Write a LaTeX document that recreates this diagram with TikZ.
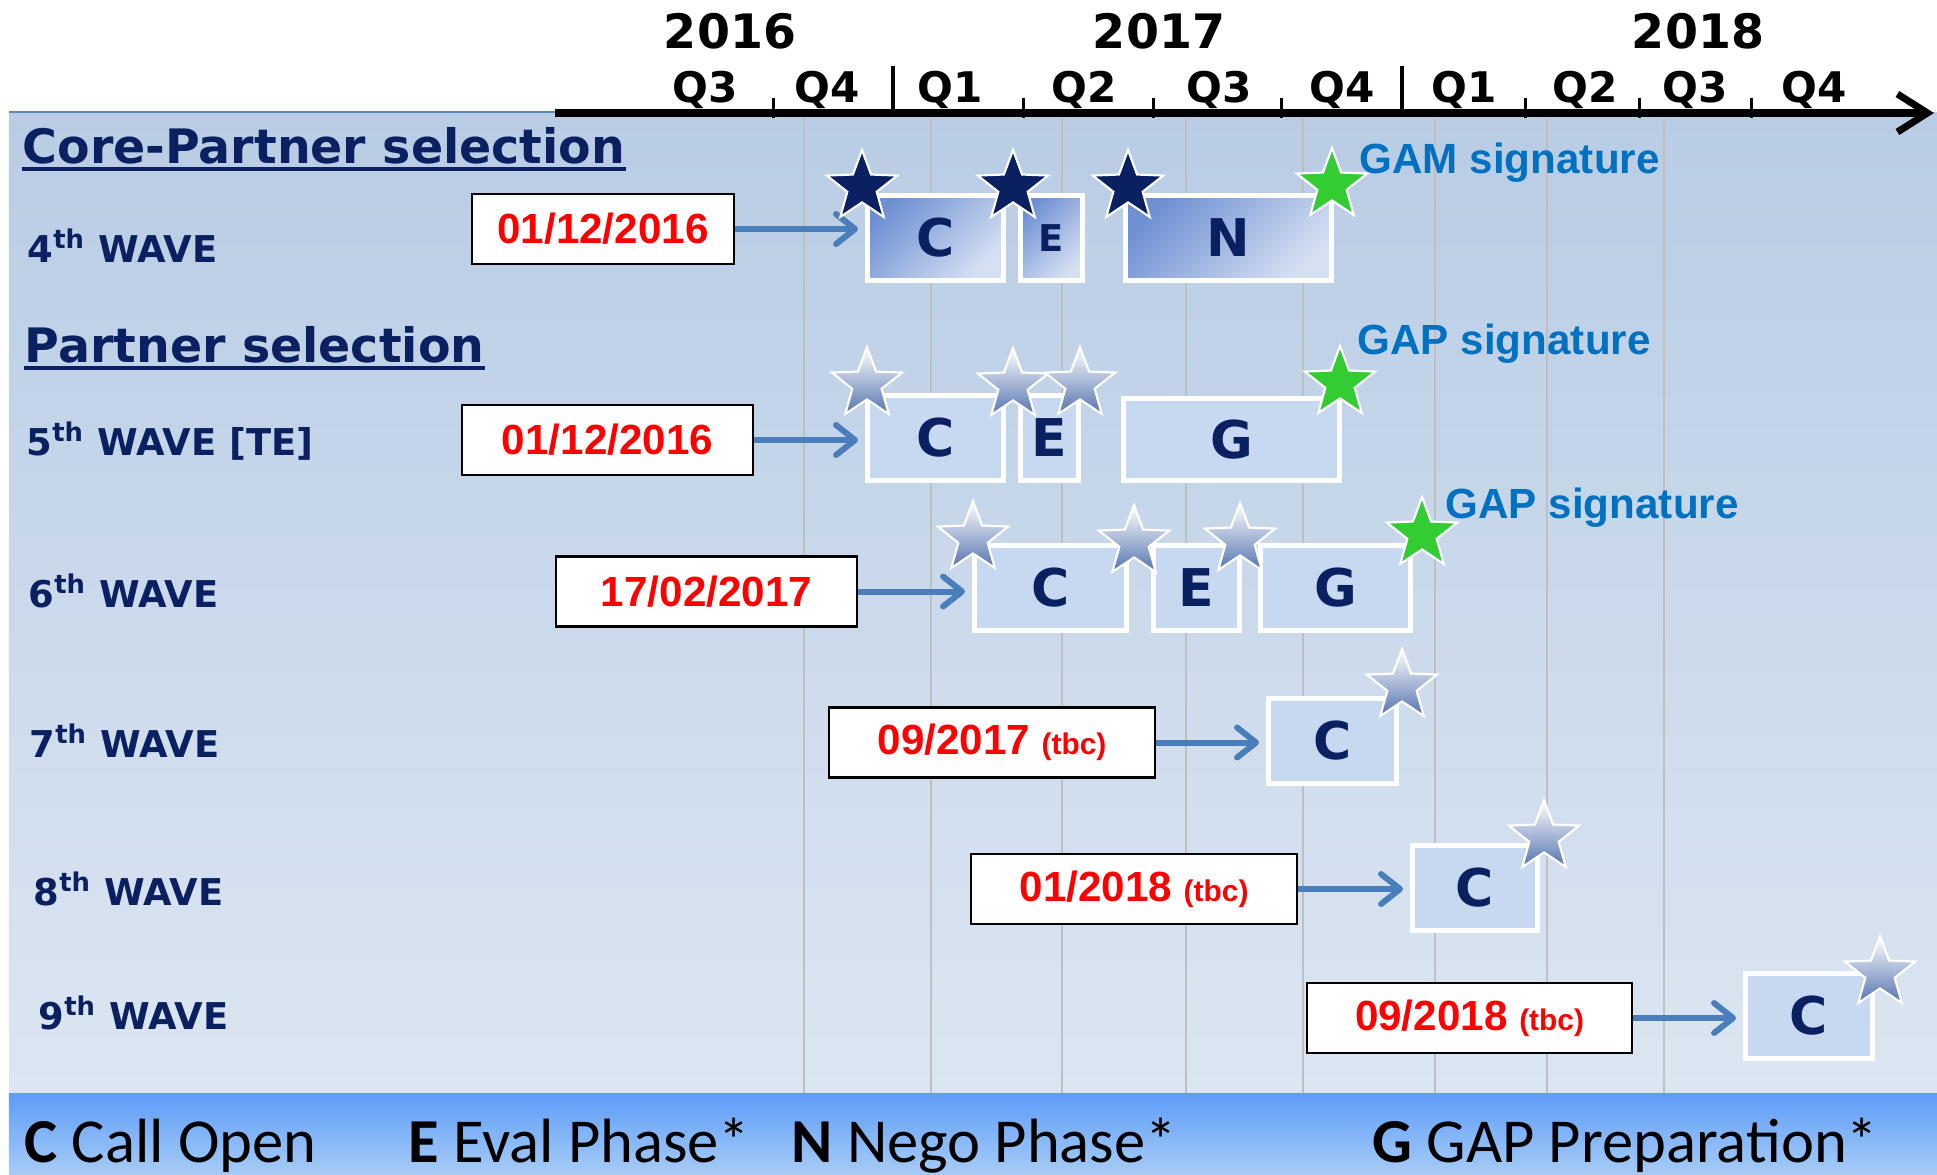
\documentclass[tikz,border=0pt]{standalone}
\usepackage{fontspec}
\setmainfont{DejaVu Sans}
\newfontfamily\arialfont{Liberation Sans}
\newfontfamily\calfont{Carlito}
\usetikzlibrary{shapes.geometric,arrows.meta}

\definecolor{wavenavy}{HTML}{0A2060}
\definecolor{panelTop}{HTML}{B8CCE4}
\definecolor{panelBot}{HTML}{DCE6F2}
\definecolor{panelEdge}{HTML}{5B86C0}
\definecolor{barTop}{HTML}{5E9CF8}
\definecolor{barBot}{HTML}{A6CCF6}
\definecolor{gridgray}{HTML}{BFBFBF}
\definecolor{flowblue}{HTML}{4A7EBB}
\definecolor{signblue}{HTML}{0070C0}
\definecolor{boxlight}{HTML}{C6D9F1}
\definecolor{coreDark}{HTML}{6E90D2}
\definecolor{coreMid}{HTML}{7B9BD8}
\definecolor{coreLight}{HTML}{D6E0F3}
\definecolor{stargreen}{HTML}{33CC33}
\definecolor{starshade}{HTML}{5674B0}

\newcommand{\tbc}{{\fontsize{8.5}{9}\selectfont(tbc)}}

\tikzset{
  yearlabel/.style={anchor=base, inner sep=0, font=\fontsize{13.5}{15}\selectfont\bfseries},
  qlabel/.style={anchor=base, inner sep=0, font=\fontsize{12}{14}\selectfont\bfseries},
  heading/.style={anchor=base west, inner sep=0, text=wavenavy, font=\fontsize{13.5}{16}\selectfont\bfseries},
  wavelabel/.style={anchor=base west, inner sep=0, text=wavenavy, font=\fontsize{10.5}{12}\selectfont\bfseries},
  datebox/.style={draw=black, line width=0.8pt, fill=white, minimum height=0.70cm, inner sep=0,
    text=red, font=\arialfont\bfseries\fontsize{12}{14}\selectfont},
  phase/.style={draw=white, line width=1.4pt, fill=boxlight, minimum height=0.85cm, inner sep=0,
    text=wavenavy, font=\fontsize{14.8}{16}\selectfont\bfseries},
  corephase/.style={phase, top color=coreDark, middle color=coreMid, bottom color=coreLight, shading angle=45},
  flow/.style={draw=flowblue, line width=1.7pt, shorten >=0.07cm,
    -{Straight Barb[round,length=0.19cm,width=0.3cm]}},
  starbase/.style={star, star points=5, star point ratio=2.4, minimum size=0.74cm, inner sep=0,
    draw=white, line width=0.6pt},
  darkstar/.style={starbase, fill=wavenavy},
  greenstar/.style={starbase, fill=stargreen},
  lightstar/.style={starbase, top color=white, bottom color=starshade},
  signature/.style={anchor=base west, inner sep=0, text=signblue, font=\arialfont\bfseries\fontsize{12}{14}\selectfont},
  legend/.style={anchor=base west, inner sep=0, font=\calfont\fontsize{17.8}{20}\selectfont},
  gridline/.style={gridgray, line width=0.4pt}
}

\begin{document}
\begin{tikzpicture}
    \useasboundingbox (0,0) rectangle (19.37,-11.74);
    % background panel and legend bar
    \fill[top color=panelTop, bottom color=panelBot] (0.09,-1.12) rectangle (19.37,-10.93);
    \draw[panelEdge, line width=0.6pt] (0.09,-1.12) -- (5.6,-1.12);
    \fill[top color=barTop, bottom color=barBot] (0.09,-10.93) rectangle (19.37,-11.74);
    \foreach \gx in {8.04,9.31,10.62,11.86,13.03,14.35,15.47,16.64}
        \draw[gridline] (\gx,-1.16) -- (\gx,-10.93);

    % time axis
    \coordinate (ax0) at (5.55,-1.13);
    \coordinate (ax1) at (19.34,-1.13);
    \draw[line width=2pt, -{Straight Barb[length=0.3cm,width=0.38cm]}] (ax0) -- (ax1);
    \foreach \tx in {7.73,10.23,11.53,12.81,15.25,16.39,17.51}
        \draw[line width=0.85pt] (\tx,-0.98) -- (\tx,-1.18);
    \foreach \tx in {8.93,14.02}
        \draw[line width=1.2pt] (\tx,-0.66) -- (\tx,-1.10);
    \node[yearlabel] (y16) at (7.30,-0.48) {2016};
    \node[yearlabel] (y17) at (11.59,-0.48) {2017};
    \node[yearlabel] (y18) at (16.98,-0.48) {2018};
    \foreach \qx/\ql [count=\i] in {7.05/Q3,8.27/Q4,9.50/Q1,10.84/Q2,12.19/Q3,13.42/Q4,14.64/Q1,15.85/Q2,16.95/Q3,18.14/Q4}
        \node[qlabel] (q\i) at (\qx,-1.02) {\ql};

    % headings
    \node[heading] (hcore) at (0.22,-1.63) {Core-Partner selection};
    \draw[wavenavy, line width=1.1pt] ([yshift=-0.06cm]hcore.base west) -- ([yshift=-0.06cm]hcore.base east);
    \node[heading] (hpart) at (0.24,-3.62) {Partner selection};
    \draw[wavenavy, line width=1.1pt] ([yshift=-0.06cm]hpart.base west) -- ([yshift=-0.06cm]hpart.base east);

    % wave labels
    \node[wavelabel] (w4) at (0.27,-2.62) {4\textsuperscript{th} WAVE};
    \node[wavelabel] (w5) at (0.26,-4.55) {5\textsuperscript{th} WAVE [TE]};
    \node[wavelabel] (w6) at (0.28,-6.07) {6\textsuperscript{th} WAVE};
    \node[wavelabel] (w7) at (0.29,-7.57) {7\textsuperscript{th} WAVE};
    \node[wavelabel] (w8) at (0.33,-9.05) {8\textsuperscript{th} WAVE};
    \node[wavelabel] (w9) at (0.38,-10.29) {9\textsuperscript{th} WAVE};

    % start dates
    \node[datebox, minimum width=2.62cm] (d4) at (6.03,-2.29) {01/12/2016};
    \node[datebox, minimum width=2.91cm] (d5) at (6.075,-4.40) {01/12/2016};
    \node[datebox, minimum width=3.01cm] (d6) at (7.065,-5.915) {17/02/2017};
    \node[datebox, minimum width=3.26cm] (d7) at (9.92,-7.425) {09/2017 \tbc};
    \node[datebox, minimum width=3.26cm] (d8) at (11.34,-8.89) {01/2018 \tbc};
    \node[datebox, minimum width=3.25cm] (d9) at (14.695,-10.18) {09/2018 \tbc};

    % phases
    \node[corephase, minimum width=1.36cm] (c4) at (9.355,-2.38) {C};
    \node[corephase, minimum width=0.62cm, font=\fontsize{10.5}{12}\selectfont\bfseries] (e4) at (10.515,-2.38) {E};
    \node[corephase, minimum width=2.06cm] (n4) at (12.285,-2.38) {N};
    \node[phase, minimum width=1.36cm] (c5) at (9.355,-4.38) {C};
    \node[phase, minimum width=0.58cm] (e5) at (10.495,-4.38) {E};
    \node[phase, minimum width=2.16cm, minimum height=0.82cm] (g5) at (12.315,-4.395) {G};
    \node[phase, minimum width=1.52cm] (c6) at (10.505,-5.88) {C};
    \node[phase, minimum width=0.86cm] (e6) at (11.965,-5.88) {E};
    \node[phase, minimum width=1.50cm] (g6) at (13.355,-5.88) {G};
    \node[phase, minimum width=1.28cm] (c7) at (13.325,-7.41) {C};
    \node[phase, minimum width=1.25cm] (c8) at (14.75,-8.88) {C};
    \node[phase, minimum width=1.27cm] (c9) at (18.09,-10.16) {C};

    % date -> call
    \draw[flow] (d4.east) -- (d4.east -| c4.west);
    \draw[flow] (d5.east) -- (d5.east -| c5.west);
    \draw[flow] (d6.east) -- (d6.east -| c6.west);
    \draw[flow] (d7.east) -- (d7.east -| c7.west);
    \draw[flow] (d8.east) -- (d8.east -| c8.west);
    \draw[flow] (d9.east) -- (d9.east -| c9.west);

    % milestones
    \node[darkstar] (s4a) at (8.62,-1.87) {};
    \node[darkstar] (s4b) at (10.13,-1.87) {};
    \node[darkstar] (s4c) at (11.28,-1.87) {};
    \node[greenstar] (s4d) at (13.32,-1.85) {};
    \node[lightstar] (s5a) at (8.67,-3.84) {};
    \node[lightstar] (s5b) at (10.13,-3.85) {};
    \node[lightstar] (s5c) at (10.80,-3.84) {};
    \node[greenstar] (s5d) at (13.40,-3.83) {};
    \node[lightstar] (s6a) at (9.73,-5.38) {};
    \node[lightstar] (s6b) at (11.34,-5.42) {};
    \node[lightstar] (s6c) at (12.40,-5.40) {};
    \node[greenstar] (s6d) at (14.22,-5.34) {};
    \node[lightstar] (s7) at (14.02,-6.86) {};
    \node[lightstar] (s8) at (15.44,-8.37) {};
    \node[lightstar] (s9) at (18.80,-9.73) {};

    \node[signature] (gam) at (13.59,-1.73) {GAM signature};
    \node[signature] (gap5) at (13.57,-3.54) {GAP signature};
    \node[signature] (gap6) at (14.45,-5.18) {GAP signature};

    % legend
    \node[legend] (lc) at (0.24,-11.62) {\textbf{C} Call Open};
    \node[legend] (le) at (4.08,-11.62) {\textbf{E} Eval Phase*};
    \node[legend] (ln) at (7.91,-11.62) {\textbf{N} Nego Phase*};
    \node[legend] (lg) at (13.72,-11.62) {\textbf{G} GAP Preparation*};
\end{tikzpicture}
\end{document}
